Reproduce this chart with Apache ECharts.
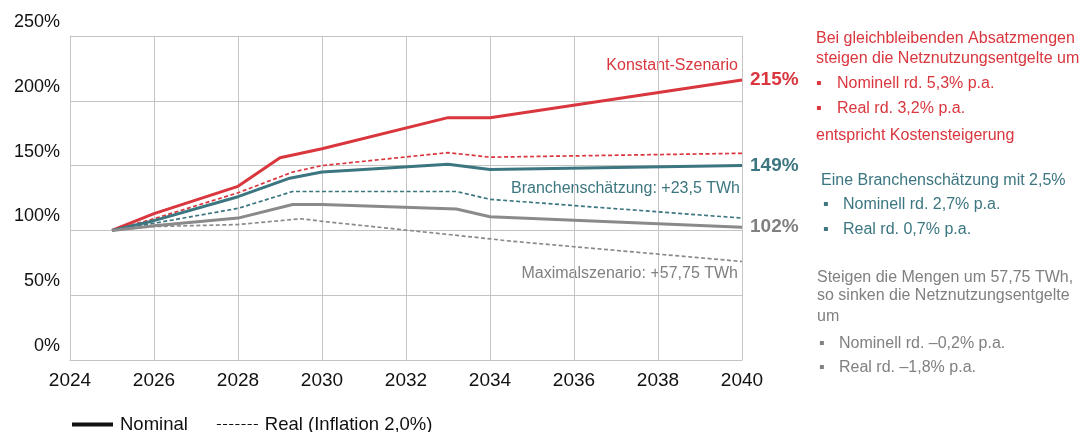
<!DOCTYPE html>
<html>
<head>
    <meta charset="utf-8">
    <title>Netznutzungsentgelte</title>
    <script src="https://cdn.jsdelivr.net/npm/echarts@6/dist/echarts.min.js"></script>
    <style>
        body { margin: 0; background: #fff; }
        #main { width: 1084px; height: 432px; }
    </style>
</head>
<body>
<div id="main"></div>
<script type="text/javascript">
var xTicks = [2024, 2026, 2028, 2030, 2032, 2034, 2036, 2038, 2040];
var yTicks = [0, 50, 100, 150, 200, 250];

var konstantNominal = [[2025, 100], [2026, 113], [2028, 134], [2029, 156], [2030, 163], [2033, 187], [2034, 187], [2040, 216]];
var konstantReal = [[2025, 100], [2026, 109], [2028, 129], [2029.3, 145], [2030, 150], [2033, 160], [2034, 156.5], [2040, 159.5]];
var branchNominal = [[2025, 100], [2026, 107.5], [2028, 126], [2029.2, 140], [2030, 145], [2030.7, 146.5], [2033, 151], [2034, 147], [2040, 150]];
var branchReal = [[2025, 100], [2026, 105.5], [2028, 117], [2029.3, 130], [2033.2, 130], [2034, 124], [2040, 109.5]];
var maxNominal = [[2025, 100], [2026, 103.5], [2028, 109.5], [2029.3, 120], [2030, 120], [2033.2, 116.5], [2034, 110.5], [2040, 102.5]];
var maxReal = [[2025, 100], [2026, 103], [2028, 104.5], [2029.5, 109], [2030, 107], [2034, 93.5], [2034.4, 92], [2040, 76]];

var endLabels = ['215%', '149%', '102%'];

var red = '#d9363e';
var teal = '#3c7680';
var grey = '#8a8a8a';
var greyText = '#808080';

var myChart = echarts.init(document.getElementById('main'));

function solid(name, data, color) {
    return {
        name: name, type: 'line', data: data, symbol: 'none', silent: true,
        lineStyle: { color: color, width: 3 }, z: 3
    };
}
function dashed(name, data, color) {
    return {
        name: name, type: 'line', data: data, symbol: 'none', silent: true,
        lineStyle: { color: color, width: 1.7, type: [4, 2.5] }, z: 2
    };
}
function endLabel(s, text, color) {
    s.endLabel = {
        show: true, formatter: text, color: color, fontSize: 19, fontWeight: 'bold',
        fontFamily: 'Liberation Sans', distance: 8
    };
    return s;
}

var txt = { fontFamily: 'Liberation Sans', fontSize: 16 };

function line(x, y, text, color) {
    return { type: 'text', left: x, top: y, style: Object.assign({ text: text, fill: color }, txt) };
}

// gestrichelte Legendenlinie
var dashIcon = 'path://M0,0h4v1h-4z M6,0h4v1h-4z M12,0h4v1h-4z M18,0h4v1h-4z M24,0h4v1h-4z M30,0h4v1h-4z M36,0h4v1h-4z';

var option = {
    animation: false,
    grid: { left: 70, right: 342, top: 36, bottom: 72 },
    xAxis: {
        type: 'value', min: 2024, max: 2040, interval: 2,
        axisLine: { show: true, lineStyle: { color: '#c4c4c4' } },
        axisTick: { show: false },
        splitLine: { show: true, lineStyle: { color: '#c4c4c4' } },
        axisLabel: { color: '#111', fontSize: 19, fontFamily: 'Liberation Sans', margin: 11,
            formatter: function (v) { return xTicks.indexOf(v) >= 0 ? String(v) : ''; } }
    },
    yAxis: {
        type: 'value', min: 0, max: 250, interval: 50,
        axisLine: { show: true, lineStyle: { color: '#c4c4c4' } },
        axisTick: { show: false },
        splitLine: { lineStyle: { color: '#c4c4c4' } },
        axisLabel: { color: '#111', fontSize: 18, fontFamily: 'Liberation Sans', margin: 10,
            verticalAlign: 'bottom', padding: [0, 0, 5, 0],
            formatter: function (v) { return yTicks.indexOf(v) >= 0 ? v + '%' : ''; } }
    },
    legend: {
        left: 67, top: 410, itemGap: 29, itemWidth: 41, itemHeight: 4,
        textStyle: { color: '#111', fontSize: 18.5, fontFamily: 'Liberation Sans', padding: [0, 0, 0, 2] },
        data: [
            { name: 'Nominal', icon: 'rect' },
            { name: 'Real (Inflation 2,0%)', icon: dashIcon, itemStyle: { borderWidth: 0 } }
        ]
    },
    series: [
        { name: 'Nominal', type: 'line', data: [], symbol: 'none', lineStyle: { color: '#111', width: 0 }, itemStyle: { color: '#111' } },
        { name: 'Real (Inflation 2,0%)', type: 'line', data: [], symbol: 'none', lineStyle: { color: '#111', width: 0 }, itemStyle: { color: '#111' } },
        dashed('Konstant Real', konstantReal, red),
        dashed('Branche Real', branchReal, teal),
        dashed('Maximal Real', maxReal, grey),
        endLabel(solid('Konstant Nominal', konstantNominal, red), endLabels[0], red),
        endLabel(solid('Branche Nominal', branchNominal, teal), endLabels[1], teal),
        endLabel(solid('Maximal Nominal', maxNominal, grey), endLabels[2], greyText)
    ],
    graphic: [
        { type: 'text', right: 346, top: 58, style: Object.assign({ text: 'Konstant-Szenario', fill: red }, txt) },
        { type: 'text', right: 344, top: 181, style: Object.assign({ text: 'Branchenschätzung: +23,5 TWh', fill: teal }, txt) },
        { type: 'text', right: 346, top: 266, style: Object.assign({ text: 'Maximalszenario: +57,75 TWh', fill: greyText }, txt) },

        line(816, 31, 'Bei gleichbleibenden Absatzmengen', red),
        line(816, 51, 'steigen die Netznutzungsentgelte um', red),
        line(816, 76, '▪', red), line(837, 76, 'Nominell rd. 5,3% p.a.', red),
        line(816, 101, '▪', red), line(837, 101, 'Real rd. 3,2% p.a.', red),
        line(816, 128, 'entspricht Kostensteigerung', red),

        line(821, 173, 'Eine Branchenschätzung mit 2,5%', teal),
        line(823, 197, '▪', teal), line(843, 197, 'Nominell rd. 2,7% p.a.', teal),
        line(823, 222, '▪', teal), line(843, 222, 'Real rd. 0,7% p.a.', teal),

        line(817, 270, 'Steigen die Mengen um 57,75 TWh,', greyText),
        line(817, 288, 'so sinken die Netznutzungsentgelte', greyText),
        line(817, 309, 'um', greyText),
        line(819, 336, '▪', greyText), line(839, 336, 'Nominell rd. –0,2% p.a.', greyText),
        line(819, 360, '▪', greyText), line(839, 360, 'Real rd. –1,8% p.a.', greyText)
    ]
};

myChart.setOption(option);
</script>
</body>
</html>
